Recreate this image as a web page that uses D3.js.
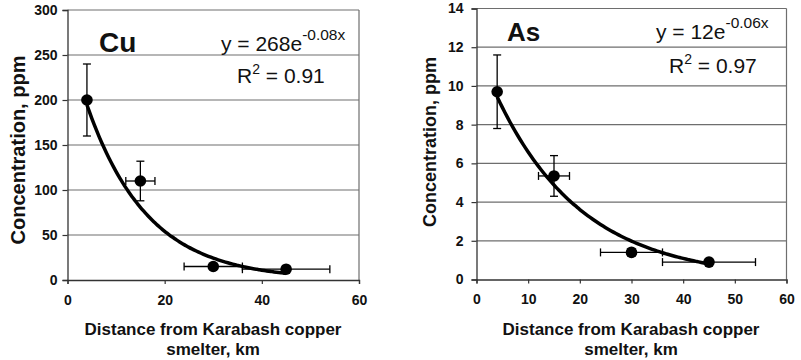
<!DOCTYPE html>
<html>
<head>
<meta charset="utf-8">
<script src="https://cdn.jsdelivr.net/npm/d3@7"></script>
<style>
  body { margin: 0; background: #fff; }
  svg text { font-family: Arial, "Liberation Sans", Helvetica, sans-serif; fill: #111; }
</style>
</head>
<body>
<svg id="chart" width="801" height="360"></svg>
<script>
// Cu panel
const cuDistance = [4, 15, 30, 45];
const cuConc = [200, 110, 15, 12];
const cuConcErr = [40, 22, 0, 0];
const cuDistErr = [0, 3, 6, 9];
const cuFit = [268, -0.08];
const cuYTicks = [0, 50, 100, 150, 200, 250, 300];
const cuXTicks = [0, 20, 40, 60];

// As panel
const asDistance = [4, 15, 30, 45];
const asConc = [9.7, 5.35, 1.4, 0.9];
const asConcErr = [1.9, 1.05, 0.2, 0];
const asDistErr = [0, 3, 6, 9];
const asFit = [12, -0.06];
const asYTicks = [0, 2, 4, 6, 8, 10, 12, 14];
const asXTicks = [0, 10, 20, 30, 40, 50, 60];

const svg = d3.select('#chart');

function drawPanel(p) {
    const x = d3.scaleLinear().domain([0, 60]).range([p.left, p.right]);
    const y = d3.scaleLinear().domain([0, p.yMax]).range([p.bottom, p.top]);
    const g = svg.append('g');

    // gridlines
    g.selectAll('.grid').data(p.yTicks.filter(d => d > 0)).join('line')
        .attr('x1', p.left).attr('x2', p.right)
        .attr('y1', d => y(d)).attr('y2', d => y(d))
        .attr('stroke', '#6e6e6e').attr('stroke-width', 1.2);
    g.append('line')
        .attr('x1', p.right).attr('x2', p.right)
        .attr('y1', p.top).attr('y2', p.bottom)
        .attr('stroke', '#6e6e6e').attr('stroke-width', 1.2);

    // axes
    const yAxis = g.append('g').attr('transform', `translate(${p.left},0)`)
        .call(d3.axisLeft(y).tickValues(p.yTicks).tickSize(5).tickPadding(p.yPad));
    const xAxis = g.append('g').attr('transform', `translate(0,${p.bottom})`)
        .call(d3.axisBottom(x).tickValues(p.xTicks).tickSize(4).tickPadding(11));
    [yAxis, xAxis].forEach(a => {
        a.select('.domain').attr('stroke', '#333').attr('stroke-width', 1.3);
        a.selectAll('.tick line').attr('stroke', '#333').attr('stroke-width', 1.2);
        a.selectAll('text').attr('font-size', 14).attr('font-weight', 'bold')
            .attr('font-family', 'Arial, "Liberation Sans", sans-serif').attr('fill', '#111');
    });

    // trendline from the displayed equation
    const fitXs = d3.range(p.dist[0], p.dist[p.dist.length - 1] + 0.01, 0.5);
    g.append('path')
        .attr('d', d3.line().curve(d3.curveBasis)
            .x(d => x(d)).y(d => y(p.fit[0] * Math.exp(p.fit[1] * d)))(fitXs))
        .attr('fill', 'none').attr('stroke', '#000').attr('stroke-width', 3.5);

    // error bars
    const pts = p.dist.map((d, i) => ({ x: d, y: p.conc[i], ex: p.distErr[i], ey: p.concErr[i] }));
    const eb = g.append('g').attr('stroke', '#000').attr('stroke-width', 1.3);
    pts.filter(d => d.ey > 0).forEach(d => {
        eb.append('line').attr('x1', x(d.x)).attr('x2', x(d.x))
            .attr('y1', y(d.y - d.ey)).attr('y2', y(d.y + d.ey));
        [d.y - d.ey, d.y + d.ey].forEach(v => eb.append('line')
            .attr('x1', x(d.x) - 4).attr('x2', x(d.x) + 4)
            .attr('y1', y(v)).attr('y2', y(v)));
    });
    pts.filter(d => d.ex > 0).forEach(d => {
        eb.append('line').attr('x1', x(d.x - d.ex)).attr('x2', x(d.x + d.ex))
            .attr('y1', y(d.y)).attr('y2', y(d.y));
        [d.x - d.ex, d.x + d.ex].forEach(v => eb.append('line')
            .attr('x1', x(v)).attr('x2', x(v))
            .attr('y1', y(d.y) - 4).attr('y2', y(d.y) + 4));
    });

    // markers
    g.selectAll('.pt').data(pts).join('circle')
        .attr('cx', d => x(d.x)).attr('cy', d => y(d.y)).attr('r', 5.8)
        .attr('fill', '#000');

    // element label
    g.append('text').attr('x', p.labelX).attr('y', p.labelY)
        .attr('font-size', p.labelSize).attr('font-weight', 'bold').text(p.label);

    // equation
    const eq = g.append('text').attr('x', p.eqX).attr('y', p.eqY).attr('font-size', 21);
    eq.append('tspan').text(`y = ${p.fit[0]}e`);
    eq.append('tspan').attr('dy', -11).attr('font-size', 15.5).text(`${p.fit[1].toFixed(2)}x`);
    const r2 = g.append('text').attr('x', p.r2X).attr('y', p.r2Y).attr('font-size', 21);
    r2.append('tspan').text('R');
    r2.append('tspan').attr('dy', -9).attr('font-size', 14).text('2');
    r2.append('tspan').attr('dy', 9).text(` = ${p.r2}`);

    // axis titles
    g.append('text')
        .attr('transform', `translate(${p.yTitleX},${p.yTitleY}) rotate(-90)`)
        .attr('text-anchor', 'middle').attr('font-size', p.yTitleSize).attr('font-weight', 'bold')
        .text('Concentration, ppm');
    const xt = g.append('text').attr('text-anchor', 'middle')
        .attr('font-size', 17).attr('font-weight', 'bold');
    xt.append('tspan').attr('x', p.xTitleX).attr('y', 335).text('Distance from Karabash copper');
    xt.append('tspan').attr('x', p.xTitleX).attr('y', 355).text('smelter, km');
}

drawPanel({
    dist: cuDistance, conc: cuConc, concErr: cuConcErr, distErr: cuDistErr,
    fit: cuFit, r2: '0.91', yMax: 300, yTicks: cuYTicks, xTicks: cuXTicks,
    left: 67.5, right: 359, top: 10, bottom: 280, yPad: 5,
    label: 'Cu', labelX: 99, labelY: 52, labelSize: 28,
    eqX: 221, eqY: 51, r2X: 237, r2Y: 83,
    yTitleX: 25, yTitleY: 150, yTitleSize: 20, xTitleX: 213
});

drawPanel({
    dist: asDistance, conc: asConc, concErr: asConcErr, distErr: asDistErr,
    fit: asFit, r2: '0.97', yMax: 14, yTicks: asYTicks, xTicks: asXTicks,
    left: 476.5, right: 786.5, top: 8.5, bottom: 279.5, yPad: 8,
    label: 'As', labelX: 507, labelY: 41, labelSize: 26,
    eqX: 656, eqY: 39, r2X: 669, r2Y: 72.5,
    yTitleX: 436, yTitleY: 142, yTitleSize: 18, xTitleX: 631
});
</script>
</body>
</html>
